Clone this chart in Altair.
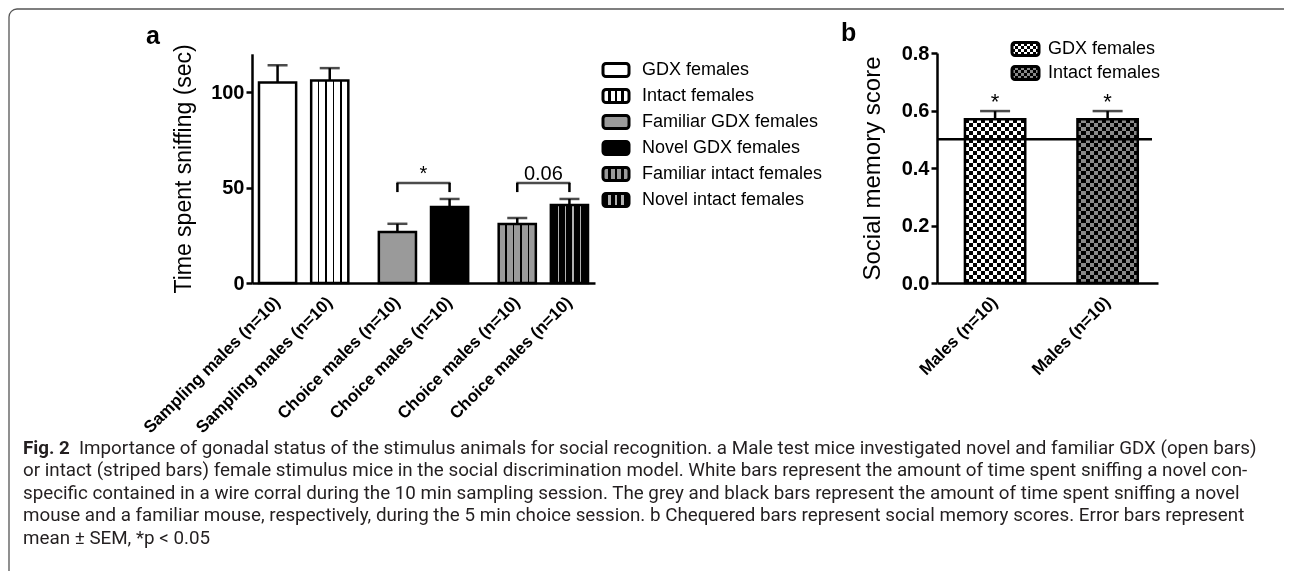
import altair as alt
import pandas as pd

W, H = 1276, 563

# ---------------- panel a data ----------------
a_group = ["Sampling", "Sampling", "Choice GDX", "Choice GDX", "Choice intact", "Choice intact"]
a_sub = ["first", "second", "first", "second", "first", "second"]
a_series = ["GDX females", "Intact females", "Familiar GDX females", "Novel GDX females",
            "Familiar intact females", "Novel intact females"]
a_tick_label = ["Sampling males (n=10)", "Sampling males (n=10)", "Choice males (n=10)",
                "Choice males (n=10)", "Choice males (n=10)", "Choice males (n=10)"]
a_mean = [105.0, 106.0, 26.7, 39.8, 30.9, 40.8]
a_sem = [9.0, 6.5, 4.3, 4.2, 3.1, 3.2]

a_brk_group = ["Choice GDX", "Choice intact"]
a_brk_text = ["*", "0.06"]
a_brk_top = [52.4, 52.4]
a_brk_foot = [47.6, 47.6]

# ---------------- panel b data ----------------
b_series = ["GDX females", "Intact females"]
b_tick_label = ["Males (n=10)", "Males (n=10)"]
b_mean = [0.57, 0.57]
b_sem = [0.028, 0.028]
b_sig = ["*", "*"]
b_chance = [0.5]

caption_bold = "Fig. 2"
caption_lines = [
    "Importance of gonadal status of the stimulus animals for social recognition. a Male test mice investigated novel and familiar GDX (open bars)",
    "or intact (striped bars) female stimulus mice in the social discrimination model. White bars represent the amount of time spent sniffing a novel con-",
    "specific contained in a wire corral during the 10 min sampling session. The grey and black bars represent the amount of time spent sniffing a novel",
    "mouse and a familiar mouse, respectively, during the 5 min choice session. b Chequered bars represent social memory scores. Error bars represent",
    "mean \u00b1 SEM, *p < 0.05",
]

FONT = "Liberation Sans"
CAPFONT = "Roboto"
CAPSIZE = 18.8


# ---------------- fill helpers (styles only) ----------------
def lines_grad(base, line, n_lines, frac):
    stops = [alt.GradientStop(offset=0, color=base)]
    for i in range(n_lines):
        p = (i + 1) / (n_lines + 1)
        a, b = p - frac / 2, p + frac / 2
        stops += [alt.GradientStop(offset=a, color=base), alt.GradientStop(offset=a, color=line),
                  alt.GradientStop(offset=b, color=line), alt.GradientStop(offset=b, color=base)]
    stops.append(alt.GradientStop(offset=1, color=base))
    return alt.LinearGradient(gradient="linear", stops=stops, x1=0, y1=0, x2=1, y2=0)


def bands_grad(n, c1, c2, vertical_bands):
    stops = []
    for i in range(n):
        c = c1 if i % 2 == 0 else c2
        stops += [alt.GradientStop(offset=i / n, color=c), alt.GradientStop(offset=(i + 1) / n, color=c)]
    if vertical_bands:
        return alt.LinearGradient(gradient="linear", stops=stops, x1=0, y1=0, x2=1, y2=0)
    return alt.LinearGradient(gradient="linear", stops=stops, x1=0, y1=0, x2=0, y2=1)


GREY = "#9a9a9a"


def a_fill(series, frac):
    nl = 4 if frac < 0.05 else 3
    return {
        "GDX females": "white",
        "Intact females": lines_grad("white", "black", nl, frac),
        "Familiar GDX females": GREY,
        "Novel GDX females": "black",
        "Familiar intact females": lines_grad(GREY, "black", nl, frac),
        "Novel intact females": lines_grad("black", "#b0b0b0", nl, frac),
    }[series]


# ---------------- panel a ----------------
dfA = pd.DataFrame({"group": a_group, "sub": a_sub, "series": a_series,
                    "label": a_tick_label, "mean": a_mean, "sem": a_sem})

xA = alt.X("group:N", scale=alt.Scale(domain=["Sampling", "Choice GDX", "Choice intact"],
                                      range=[244, 587], paddingInner=0.138, paddingOuter=0),
           axis=alt.Axis(orient="bottom", offset=-(H - 275), labels=False, ticks=False,
                         domainColor="black", domainWidth=2.5, title=None, grid=False))
xoA = alt.XOffset("sub:N", scale=alt.Scale(domain=["first", "second"], paddingInner=0.288, paddingOuter=0.134))
yscaleA = alt.Scale(domain=[0, 120], range=[275, 45.8], nice=False, zero=True)
yA = alt.Y("mean:Q", scale=yscaleA,
           axis=alt.Axis(orient="left", offset=-244, values=[0, 50, 100], tickSize=6, tickWidth=2.5,
                         tickColor="black", domainColor="black", domainWidth=2.5, grid=False,
                         labelFont=FONT, labelFontSize=20, labelFontWeight="bold", labelColor="black",
                         labelPadding=2, title="Time spent sniffing (sec)", titleFont=FONT,
                         titleFontSize=23, titleFontWeight="normal", titleColor="black", titlePadding=15))

baseA = alt.Chart(dfA)
layersA = []
for s in a_series:
    layersA.append(
        baseA.transform_filter(alt.datum.series == s)
        .mark_bar(fill=a_fill(s, 0.04), stroke="black", strokeWidth=2.5)
        .encode(x=xA, xOffset=xoA, y=yA)
    )
errA = baseA.transform_calculate(hi="datum.mean + datum.sem").mark_rule(color="black", strokeWidth=2.5).encode(
    x=xA, xOffset=xoA, y=alt.Y("mean:Q", scale=yscaleA), y2="hi:Q")
capA = baseA.transform_calculate(hi="datum.mean + datum.sem").mark_tick(
    color="black", thickness=2.5, size=20, orient="horizontal").encode(
    x=xA, xOffset=xoA, y=alt.Y("hi:Q", scale=yscaleA))
labA = baseA.mark_text(angle=315, align="right", baseline="middle", dx=-12, dy=12,
                       font=FONT, fontSize=17, fontWeight="bold", color="black").encode(
    x=xA, xOffset=xoA, y=alt.Y(datum=0, scale=yscaleA), text="label:N")

brk_rows = []
for g, t, top, foot in zip(a_brk_group, a_brk_text, a_brk_top, a_brk_foot):
    for sb in ["first", "second"]:
        brk_rows.append({"group": g, "sub": sb, "text": t, "top": top, "foot": foot})
dfBrk = pd.DataFrame(brk_rows)
brkFeet = alt.Chart(dfBrk).mark_rule(color="black", strokeWidth=2.5).encode(
    x=xA, xOffset=xoA, y=alt.Y("foot:Q", scale=yscaleA), y2="top:Q")
brkTop = alt.Chart(dfBrk).transform_filter(alt.datum.sub == "first").mark_tick(
    color="black", thickness=2.5, size=54, orient="horizontal").encode(
    x=xA, y=alt.Y("top:Q", scale=yscaleA))
brkText = alt.Chart(dfBrk).transform_filter(alt.datum.sub == "first").mark_text(
    baseline="alphabetic", dy=-3, font=FONT, fontSize=20, color="black").encode(
    x=xA, y=alt.Y("top:Q", scale=yscaleA), text="text:N")

panelA = alt.layer(*layersA, errA, capA, brkFeet, brkTop, brkText, labA)

# ---------------- legend a ----------------
dfLA = pd.DataFrame({"label": a_series})
yLA = alt.Y("label:N", scale=alt.Scale(domain=a_series, range=[49, 205], paddingInner=0.5, paddingOuter=0.25),
            axis=None)
legA_layers = []
for s in a_series:
    legA_layers.append(
        alt.Chart(dfLA).transform_filter(alt.datum.label == s)
        .mark_rect(fill=a_fill(s, 0.08), stroke="black", strokeWidth=3, cornerRadius=3)
        .encode(y=yLA, x=alt.value(595), x2=alt.value(621))
    )
legA_text = alt.Chart(dfLA).mark_text(align="left", baseline="middle", font=FONT, fontSize=18,
                                      color="black").encode(y=yLA, x=alt.value(634), text="label:N")
legendA = alt.layer(*legA_layers, legA_text)

# ---------------- panel b ----------------
dfB = pd.DataFrame({"series": b_series, "label": b_tick_label, "mean": b_mean, "sem": b_sem, "sig": b_sig})
xB = alt.X("series:N", scale=alt.Scale(domain=b_series, range=[929, 1150], paddingInner=0.464,
                                       paddingOuter=0.214, align=0.58),
           axis=alt.Axis(orient="bottom", offset=-(H - 275), labels=False, ticks=False,
                         domainColor="black", domainWidth=2.5, title=None, grid=False))
yscaleB = alt.Scale(domain=[0, 0.8], range=[275, 45], nice=False, zero=True)
yB = alt.Y("mean:Q", scale=yscaleB,
           axis=alt.Axis(orient="left", offset=-929, values=[0, 0.2, 0.4, 0.6, 0.8], format=".1f",
                         tickSize=6, tickWidth=2.5, tickColor="black", domainColor="black",
                         domainWidth=2.5, grid=False, labelFont=FONT, labelFontSize=20,
                         labelFontWeight="bold", labelColor="black", labelPadding=2,
                         title="Social memory score", titleFont=FONT, titleFontSize=24,
                         titleFontWeight="normal", titleColor="black", titlePadding=17))
baseB = alt.Chart(dfB)
chkV = baseB.mark_bar(fill=bands_grad(15, "white", "black", True)).encode(x=xB, y=yB)
chkH = baseB.mark_bar(fill=bands_grad(41, "white", "black", False), blend="difference").encode(x=xB, y=yB)
chkG = baseB.transform_filter(alt.datum.series == "Intact females").mark_bar(
    fill="#8a8a8a", blend="multiply").encode(x=xB, y=yB)
outB = baseB.mark_bar(fillOpacity=0, stroke="black", strokeWidth=2.5).encode(x=xB, y=yB)
errB = baseB.transform_calculate(hi="datum.mean + datum.sem").mark_rule(color="black", strokeWidth=2.5).encode(
    x=xB, y=alt.Y("mean:Q", scale=yscaleB), y2="hi:Q")
capB = baseB.transform_calculate(hi="datum.mean + datum.sem").mark_tick(
    color="black", thickness=2.5, size=30, orient="horizontal").encode(x=xB, y=alt.Y("hi:Q", scale=yscaleB))
sigB = baseB.transform_calculate(hi="datum.mean + datum.sem").mark_text(
    baseline="alphabetic", dy=-2, font=FONT, fontSize=22, color="black").encode(
    x=xB, y=alt.Y("hi:Q", scale=yscaleB), text="sig:N")
chance = alt.Chart(pd.DataFrame({"chance": b_chance})).mark_rule(color="black", strokeWidth=2.5).encode(
    y=alt.Y("chance:Q", scale=yscaleB), x=alt.value(929), x2=alt.value(1144))
labB = baseB.mark_text(angle=315, align="right", baseline="middle", dx=-12, dy=12,
                       font=FONT, fontSize=17, fontWeight="bold", color="black").encode(
    x=xB, y=alt.Y(datum=0, scale=yscaleB), text="label:N")
panelB = alt.layer(chkV, chkH, chkG, outB, errB, capB, chance, sigB, labB)

# ---------------- legend b ----------------
dfLB = pd.DataFrame({"label": b_series})
yLB = alt.Y("label:N", scale=alt.Scale(domain=b_series, range=[29, 77], paddingInner=0.46, paddingOuter=0.23),
            axis=None)
lbV = alt.Chart(dfLB).mark_rect(fill=bands_grad(9, "white", "black", True)).encode(
    y=yLB, x=alt.value(1004), x2=alt.value(1031))
lbH = alt.Chart(dfLB).mark_rect(fill=bands_grad(4, "white", "black", False), blend="difference").encode(
    y=yLB, x=alt.value(1004), x2=alt.value(1031))
lbG = alt.Chart(dfLB).transform_filter(alt.datum.label == "Intact females").mark_rect(
    fill="#8a8a8a", blend="multiply").encode(y=yLB, x=alt.value(1004), x2=alt.value(1031))
lbO = alt.Chart(dfLB).mark_rect(fillOpacity=0, stroke="black", strokeWidth=3, cornerRadius=3).encode(
    y=yLB, x=alt.value(1004), x2=alt.value(1031))
lbT = alt.Chart(dfLB).mark_text(align="left", baseline="middle", font=FONT, fontSize=18, color="black").encode(
    y=yLB, x=alt.value(1040), text="label:N")
legendB = alt.layer(lbV, lbH, lbG, lbO, lbT)

# ---------------- caption ----------------
dfCap = pd.DataFrame({"line": list(range(len(caption_lines))), "text": caption_lines})
yCap = alt.Y("line:O", scale=alt.Scale(type="point", domain=list(range(len(caption_lines))),
                                       range=[440, 529.6], padding=0), axis=None)
cap0 = alt.Chart(dfCap).transform_filter(alt.datum.line == 0).mark_text(
    align="left", baseline="middle", font=CAPFONT, fontSize=CAPSIZE, color="#231f20").encode(
    y=yCap, x=alt.value(71), text="text:N")
capRest = alt.Chart(dfCap).transform_filter(alt.datum.line > 0).mark_text(
    align="left", baseline="middle", font=CAPFONT, fontSize=CAPSIZE, color="#231f20").encode(
    y=yCap, x=alt.value(15), text="text:N")
capBold = alt.Chart(pd.DataFrame({"text": [caption_bold], "line": [0]})).mark_text(
    align="left", baseline="middle", font=CAPFONT, fontSize=CAPSIZE, fontWeight="bold", color="#231f20").encode(
    y=yCap, x=alt.value(15), text="text:N")
caption = alt.layer(cap0, capRest, capBold)

# ---------------- panel letters & frame ----------------
letA = alt.Chart(pd.DataFrame({"t": ["a"]})).mark_text(
    align="left", baseline="middle", font=FONT, fontSize=25, fontWeight="bold", color="black").encode(
    x=alt.value(138), y=alt.value(28), text="t:N")
letB = alt.Chart(pd.DataFrame({"t": ["b"]})).mark_text(
    align="left", baseline="middle", font=FONT, fontSize=25, fontWeight="bold", color="black").encode(
    x=alt.value(833), y=alt.value(25), text="t:N")
frame = alt.Chart(pd.DataFrame({"k": [0]})).mark_rect(
    fillOpacity=0, stroke="#555555", strokeWidth=1.3, cornerRadius=8).encode(
    x=alt.value(1), y=alt.value(1), x2=alt.value(1400), y2=alt.value(700))

chart = (
    alt.layer(frame, panelA, legendA, panelB, legendB, caption, letA, letB)
    .resolve_scale(x="independent", y="independent", xOffset="independent")
    .resolve_axis(x="independent", y="independent")
    .properties(width=W, height=H, autosize="none", padding=0, background="white")
    .configure_view(stroke=None)
)

chart.save("out.html", embed_options={"renderer": "svg", "actions": False})
